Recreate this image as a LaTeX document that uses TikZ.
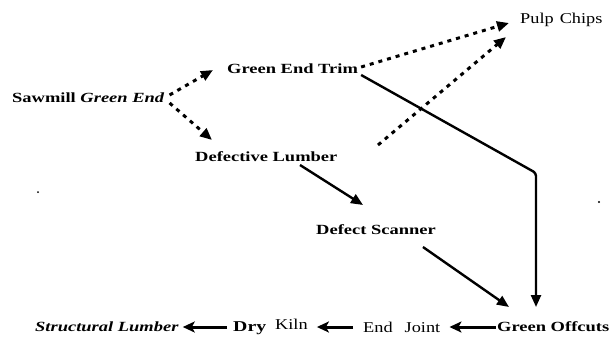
\documentclass[tikz,border=0pt]{standalone}
\usepackage{fontspec}
\setmainfont{Liberation Serif}
\newfontfamily\wideserif[FakeStretch=1.32]{Liberation Serif}
\newfontfamily\plainserif[FakeStretch=1.22]{Liberation Serif}
\usetikzlibrary{arrows.meta,calc}

\begin{document}
\begin{tikzpicture}[x=1pt,y=-1pt,
  boldlab/.style={inner sep=0pt, font=\wideserif\bfseries\fontsize{14}{16}\selectfont},
  plainlab/.style={inner sep=0pt, font=\plainserif\fontsize{15}{17}\selectfont},
  dotflow/.style={line width=3pt, dash pattern=on 4pt off 5pt,
    -{Triangle[length=12pt,width=10pt]}},
  flow/.style={line width=2.4pt, -{Triangle[length=12pt,width=10pt]}},
  backflow/.style={line width=3pt, -{Stealth[length=12pt,width=11pt,inset=3pt]}},
  speck/.style={fill=black, draw=none},
]
\path[use as bounding box] (0,0) rectangle (612,343);

% process stages
\node[boldlab, anchor=west] (saw)    at (12,98)   {Sawmill \textit{Green End}};
\node[boldlab, anchor=west] (trim)   at (227,69)  {Green End Trim};
\node[plainlab, anchor=west] (pulp)  at (520,20)  {Pulp\hspace{6pt}Chips};
\node[boldlab, anchor=west] (def)    at (195,157) {Defective Lumber};
\node[boldlab, anchor=west] (scan)   at (316,230) {Defect Scanner};
\node[boldlab, anchor=west] (off)    at (497,327) {Green Offcuts};
\node[plainlab, anchor=west] (joint) at (363,327) {End\hspace{12pt}Joint};
\node[plainlab, anchor=west] (kiln)  at (233,327) {\raisebox{-2pt}{\wideserif\bfseries Dry}\hspace{9pt}Kiln};
\node[boldlab, anchor=west] (struct) at (35,327)  {\textit{Structural Lumber}};

% free end of the second chip line
\coordinate (chipsrc) at (378,145);

% dotted flows to trim, defects and chips
\draw[dotflow] ($(saw.east)+(5,-3)$) -- ($(trim.west)+(-14,1)$);
\draw[dotflow] ($(saw.east)+(5,5)$) -- ($(def.west)+(17,-17)$);
\draw[dotflow] ($(trim.east)+(3,-2)$) -- ($(pulp.west)+(-11,3)$);
\draw[dotflow] (chipsrc) -- ($(pulp.west)+(-14,17)$);

% solid flows to offcuts
\draw[flow, rounded corners=3pt] ($(trim.east)+(3,6)$) -- (536,173) -- ($(off.west)+(39,-20)$);
\draw[flow] ($(def.west)+(105,8)$) -- ($(scan.west)+(47,-25)$);
\draw[flow] ($(scan.east)+(-13,17)$) -- ($(off.west)+(12,-20)$);

% bottom line, right to left
\draw[backflow] ($(off.west)+(-1,0)$) -- ($(joint.east)+(9,0)$);
\draw[backflow] ($(joint.west)+(-10,0)$) -- ($(kiln.east)+(9,0)$);
\draw[backflow] ($(kiln.west)+(-6,0)$) -- ($(struct.east)+(4,0)$);

% specks
\fill[speck] (38,192) circle (1pt);
\fill[speck] (599,202) circle (1.2pt);
\end{tikzpicture}
\end{document}
